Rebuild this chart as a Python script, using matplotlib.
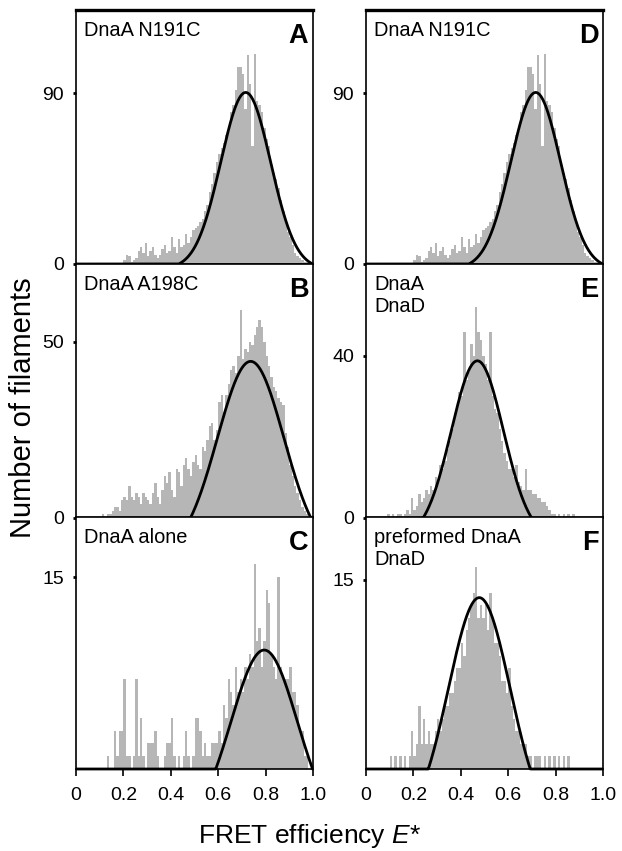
import numpy as np
import matplotlib
matplotlib.use("Agg")
import matplotlib.pyplot as plt

plt.rcParams['font.family'] = ['Liberation Sans', 'DejaVu Sans']
plt.rcParams['mathtext.fontset'] = 'custom'
plt.rcParams['mathtext.rm'] = 'Liberation Sans'
plt.rcParams['mathtext.it'] = 'Liberation Sans:italic'

BIN = 0.01

# histogram counts, one value per 0.01 bin starting at *_start
hist_a_start = 0.20
hist_a = [2, 5, 4, 1, 2, 3, 7, 9, 6, 11, 4, 7, 9, 5, 3, 5, 8, 10, 6, 7,
          14, 9, 6, 13, 9, 10, 16, 11, 14, 18, 19, 20, 22, 24, 28, 31, 38, 42, 48, 54,
          58, 61, 64, 68, 70, 80, 84, 92, 104, 104, 100, 82, 110, 95, 62, 111, 86, 84, 80, 72,
          66, 62, 52, 48, 45, 40, 34, 28, 22, 17, 14, 10, 6, 4, 3, 2, 1, 1]

hist_b_start = 0.11
hist_b = [1, 0, 1, 1, 2, 3, 3, 2, 5, 6, 5, 9, 6, 5, 7, 6, 4, 7, 6, 5,
          4, 7, 10, 6, 4, 8, 12, 10, 13, 8, 6, 14, 13, 9, 15, 17, 14, 12, 16, 18,
          15, 14, 20, 19, 22, 26, 27, 22, 25, 33, 35, 30, 35, 38, 42, 43, 41, 46, 59, 45,
          48, 47, 50, 49, 52, 54, 56, 54, 50, 46, 43, 40, 37, 36, 34, 33, 32, 24, 20, 15,
          12, 9, 7, 5, 3, 2, 1]

hist_c_start = 0.13
hist_c = [1, 0, 0, 3, 1, 3, 3, 7, 1, 1, 0, 1, 7, 1, 4, 1, 0, 2, 2, 2,
          3, 1, 0, 0, 1, 2, 2, 4, 1, 0, 1, 0, 1, 3, 1, 0, 1, 4, 4, 3,
          1, 2, 1, 1, 2, 2, 2, 3, 2, 5, 4, 7, 6, 5, 8, 6, 7, 6, 8, 7,
          9, 8, 16, 10, 11, 8, 10, 14, 13, 9, 8, 7, 15, 8, 7, 7, 7, 8, 6, 6,
          5, 3, 3, 1, 1]

hist_e_start = 0.09
hist_e = [1, 0, 1, 0, 1, 1, 0, 1, 2, 1, 5, 2, 3, 6, 4, 5, 7, 6, 8, 7,
          10, 9, 13, 12, 14, 17, 19, 22, 26, 27, 31, 30, 46, 34, 36, 43, 40, 52, 46, 44,
          40, 38, 34, 46, 30, 27, 26, 22, 19, 16, 14, 12, 12, 10, 13, 9, 8, 7, 12, 7,
          7, 6, 6, 5, 5, 4, 4, 3, 2, 1, 1, 0, 1, 0, 1, 0, 1, 0, 1]

hist_f_start = 0.10
hist_f = [1, 0, 1, 0, 1, 0, 1, 0, 1, 3, 1, 2, 5, 2, 4, 2, 3, 2, 2, 3,
          4, 3, 4, 5, 5, 6, 6, 7, 8, 8, 10, 9, 11, 12, 13, 14, 16, 12, 13, 12,
          13, 11, 14, 12, 10, 10, 9, 7, 7, 6, 8, 5, 4, 3, 3, 2, 2, 2, 1, 1,
          0, 1, 1, 1, 0, 1, 0, 1, 0, 1, 0, 1, 0, 1, 0, 1]

# gaussian fits: centre, width, amplitude, offset
fit_a = (0.716, 0.105, 93.0, -2.5)
fit_b = (0.737, 0.14, 55.0, -10.6)
fit_c = (0.794, 0.14, 14.2, -4.9)
fit_e = (0.470, 0.11, 43.8, -5.0)
fit_f = (0.478, 0.13, 18.25, -4.65)

panels = [
    # letter, text, start, counts, fit, ylim, yticks, column, row
    ('A', 'DnaA N191C', hist_a_start, hist_a, fit_a, 134, [0, 90], 0, 0),
    ('B', 'DnaA A198C', hist_b_start, hist_b, fit_b, 72, [0, 50], 0, 1),
    ('C', 'DnaA alone', hist_c_start, hist_c, fit_c, 19.7, [15], 0, 2),
    ('D', 'DnaA N191C', hist_a_start, hist_a, fit_a, 134, [0, 90], 1, 0),
    ('E', 'DnaA\nDnaD', hist_e_start, hist_e, fit_e, 62.7, [0, 40], 1, 1),
    ('F', 'preformed DnaA\nDnaD', hist_f_start, hist_f, fit_f, 20.0, [15], 1, 2),
]

W, H = 622, 851
fig = plt.figure(figsize=(W / 100, H / 100), dpi=100)

col_left = [76, 366]
col_width = 237
row_top = [10, 264, 517]
row_height = [254, 254, 252]

xs = np.linspace(0, 1, 600)
for letter, label, start, counts, fit, ymax, yticks, col, row in panels:
    left = col_left[col] / W
    bottom = 1 - (row_top[row] + row_height[row]) / H
    ax = fig.add_axes([left, bottom, col_width / W, row_height[row] / H])

    edges = start + BIN * np.arange(len(counts))
    ax.bar(edges, counts, width=BIN, align='edge', color='#b6b6b6', linewidth=0)

    mu, sig, amp, off = fit
    ys = np.maximum(amp * np.exp(-(xs - mu) ** 2 / (2 * sig ** 2)) + off, 0)
    ax.plot(xs, ys, color='black', lw=2.0, clip_on=False, zorder=5,
            solid_capstyle='butt')

    ax.set_xlim(0, 1)
    ax.set_ylim(0, ymax)
    ax.set_yticks(yticks)
    ax.set_yticklabels([str(t) for t in yticks])
    ax.tick_params(axis='y', direction='out', length=2.5, width=2, pad=6,
                   labelsize=14)

    if row == 2:
        ax.set_xticks([0, 0.2, 0.4, 0.6, 0.8, 1.0])
        ax.set_xticklabels(['0', '0.2', '0.4', '0.6', '0.8', '1.0'])
        ax.tick_params(axis='x', direction='out', length=5, width=1.2, pad=8,
                       labelsize=14)
    else:
        ax.set_xticks([0.2, 0.4, 0.6, 0.8])
        ax.set_xticklabels([])
        ax.tick_params(axis='x', direction='out', length=5, width=1.2)

    for side in ['left', 'right', 'bottom']:
        ax.spines[side].set_linewidth(1.2)
    ax.spines['top'].set_linewidth(2.4 if row == 0 else 1.2)

    ax.text(0.035, 0.955, label, transform=ax.transAxes, ha='left', va='top',
            fontsize=14.4, linespacing=1.2)
    ax.text(0.98, 0.95, letter, transform=ax.transAxes, ha='right', va='top',
            fontsize=19.5, fontweight='bold')

fig.text(309 / W, 1 - 836 / H, 'FRET efficiency $E$*', ha='center',
         va='center', fontsize=19)
fig.text(23 / W, 1 - 408 / H, 'Number of filaments', ha='center',
         va='center', rotation=90, fontsize=21)

fig.savefig('out.png', dpi=100)
